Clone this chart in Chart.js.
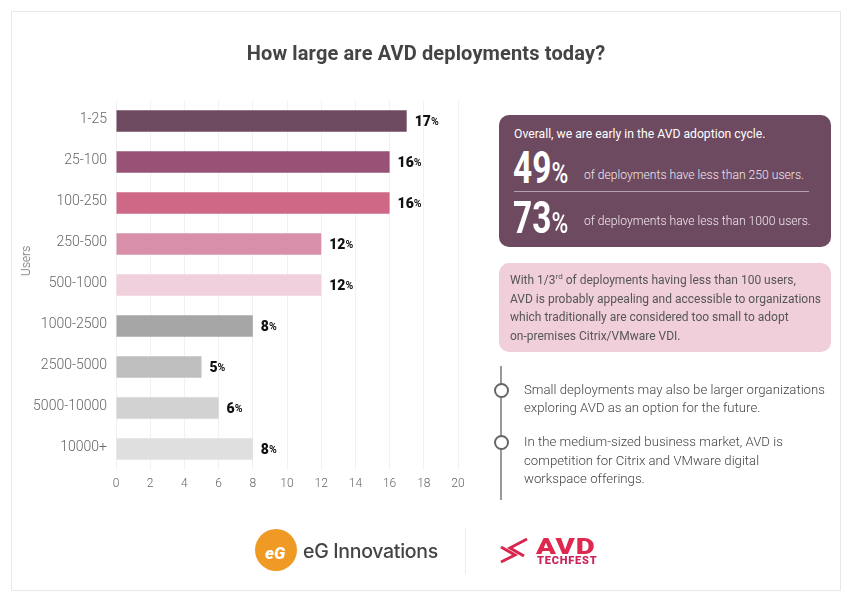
<!DOCTYPE html>
<html>
<head>
<meta charset="utf-8">
<script src="https://cdn.jsdelivr.net/npm/chart.js@4"></script>
<style>
  html, body { margin: 0; padding: 0; background: #fff; }
  #seite { position: relative; width: 850px; height: 600px; overflow: hidden; font-family: Roboto, sans-serif; color: #555; }
  #seite div, #seite span.abs { position: absolute; white-space: nowrap; }
  #rahmen { left: 11px; top: 11px; width: 828px; height: 578px; border: 1px solid #e8e8e8; }
  canvas { position: absolute; left: 0; top: 0; }
  #titel { left: 11px; width: 830px; top: 41px; text-align: center; font-size: 20px; font-weight: 700; color: #444; line-height: 24px; letter-spacing: 0.14px; }
  #users { left: 26px; top: 261px; font-size: 12px; font-weight: 300; color: #666; transform: translate(-50%, -50%) rotate(-90deg); }
  #box-dunkel { left: 499px; top: 115px; width: 332px; height: 132px; background: #6d4a60; border-radius: 10px; }
  #box-hell { left: 499px; top: 263px; width: 332px; height: 89px; background: #f0cfdb; border-radius: 10px; }
  .w { color: #fff; font-size: 12.2px; line-height: 16px; }
  .l { color: #f0e8ee; font-size: 12.15px; font-weight: 300; line-height: 16px; }
  .gross { color: #fff; font-size: 44px; font-weight: 700; line-height: 44px; transform-origin: 0 0; transform: scaleX(0.76); }
  .gross small { font-size: 30px; font-weight: 500; }
  .t { font-size: 12px; line-height: 18px; color: #555; }
  .t sup { font-size: 8px; line-height: 0; }
  .b { font-size: 13.2px; font-weight: 300; line-height: 18px; color: #444; }
  .linie { background: #999; }
  .kreis { width: 11px; height: 11px; border: 2px solid #666; border-radius: 50%; background: #fff; }
</style>
</head>
<body>
<div id="seite">
  <div id="rahmen"></div>
  <canvas id="chart" width="850" height="600" style="width:850px;height:600px"></canvas>
  <div id="titel">How large are AVD deployments today?</div>
  <div id="users">Users</div>

  <div id="box-dunkel"></div>
  <div class="w" style="left:514px;top:126px">Overall, we are early in the AVD adoption cycle.</div>
  <div class="gross" style="left:513px;top:146px">49<small>%</small></div>
  <div class="l" style="left:584px;top:167px">of deployments have less than 250 users.</div>
  <div style="left:514px;top:191px;width:295px;height:1px;background:#b59fb0"></div>
  <div class="gross" style="left:513px;top:196px">73<small>%</small></div>
  <div class="l" style="left:584px;top:213px">of deployments have less than 1000 users.</div>

  <div id="box-hell"></div>
  <div class="t" style="left:510px;top:271px">With 1/3<sup>rd</sup> of deployments having less than 100 users,</div>
  <div class="t" style="left:510px;top:290px">AVD is probably appealing and accessible to organizations</div>
  <div class="t" style="left:510px;top:308px">which traditionally are considered too small to adopt</div>
  <div class="t" style="left:510px;top:327px">on-premises Citrix/VMware VDI.</div>

  <div class="linie" style="left:500px;top:366px;width:2px;height:134px"></div>
  <div class="kreis" style="left:494px;top:383px"></div>
  <div class="kreis" style="left:494px;top:435px"></div>
  <div class="b" style="left:524px;top:381px">Small deployments may also be larger organizations</div>
  <div class="b" style="left:524px;top:399px">exploring AVD as an option for the future.</div>
  <div class="b" style="left:524px;top:433px">In the medium-sized business market, AVD is</div>
  <div class="b" style="left:524px;top:452px">competition for Citrix and VMware digital</div>
  <div class="b" style="left:524px;top:470px">workspace offerings.</div>

  <!-- Logos unten -->
  <div style="left:255px;top:529px;width:42px;height:42px;border-radius:50%;background:#f09a26"></div>
  <div style="left:265px;top:543px;font:italic 900 17px Roboto;color:#fff;line-height:20px">eG</div>
  <div style="left:303px;top:538px;font:500 19.5px Inter, Lato;color:#444;line-height:26px;letter-spacing:-0.3px">eG Innovations</div>
  <div style="left:465px;top:528px;width:1px;height:46px;background:#ececec"></div>
  <svg style="position:absolute;left:498px;top:536px" width="32" height="30">
    <polyline points="3,11 17,19 3,26" fill="none" stroke="#d9264f" stroke-width="3"/>
    <polyline points="29,3 12,12 26,20" fill="none" stroke="#d9264f" stroke-width="3"/>
  </svg>
  <div style="left:536px;top:533px;font:900 22.5px Roboto;color:#e0284f;line-height:26px;letter-spacing:0.6px;transform-origin:0 0;transform:scaleX(1.3)">AVD</div>
  <div style="left:537px;top:554px;font:900 11px Roboto;color:#c8265a;line-height:13px;letter-spacing:0.8px">TECHFEST</div>
</div>

<script>
const kategorien = ["1-25", "25-100", "100-250", "250-500", "500-1000", "1000-2500", "2500-5000", "5000-10000", "10000+"];
const werte = [17, 16, 16, 12, 12, 8, 5, 6, 8];
const farben = ["#6d4a60", "#985276", "#cf6787", "#d88fa9", "#f0d0dc", "#a6a6a6", "#bfbfbf", "#d2d2d2", "#dfdfdf"];
const xMax = 20;
const xSchritt = 2;

// Prozentwerte rechts neben den Balken: Zahl fett, % kleiner
const wertLabels = {
  id: "wertLabels",
  afterDatasetsDraw(chart) {
    const ctx = chart.ctx;
    const meta = chart.getDatasetMeta(0);
    ctx.save();
    ctx.fillStyle = "#111";
    ctx.textBaseline = "middle";
    meta.data.forEach((bar, i) => {
      const zahl = String(werte[i]);
      ctx.font = "900 14px Roboto";
      ctx.fillText(zahl, bar.x + 8, bar.y + 1);
      const breite = ctx.measureText(zahl).width;
      ctx.font = "700 10.5px Roboto";
      ctx.fillText("%", bar.x + 8 + breite, bar.y + 1.5);
    });
    ctx.restore();
  }
};

new Chart(document.getElementById("chart").getContext("2d"), {
  type: "bar",
  data: {
    labels: kategorien,
    datasets: [{
      data: werte,
      backgroundColor: farben,
      categoryPercentage: 1,
      barPercentage: 0.53
    }]
  },
  options: {
    indexAxis: "y",
    responsive: false,
    animation: false,
    layout: { padding: { left: 20, top: 100.5, right: 392, bottom: 100 } },
    plugins: { legend: { display: false }, tooltip: { enabled: false }, title: { display: false } },
    scales: {
      x: {
        min: 0,
        max: xMax,
        ticks: {
          stepSize: xSchritt,
          padding: 7,
          color: "#666",
          font: { family: "Roboto", size: 12, weight: "300" }
        },
        grid: { color: "#f1f1f1", drawTicks: false },
        border: { display: false },
        afterFit: s => { s.height = 30.5; }
      },
      y: {
        ticks: {
          padding: 9,
          labelOffset: -1.5,
          color: "#666",
          font: { family: "Roboto", size: 14, weight: "300" }
        },
        grid: { display: false, drawTicks: false },
        border: { display: false },
        afterFit: s => { s.width = 96; }
      }
    }
  },
  plugins: [wertLabels]
});
</script>
</body>
</html>
